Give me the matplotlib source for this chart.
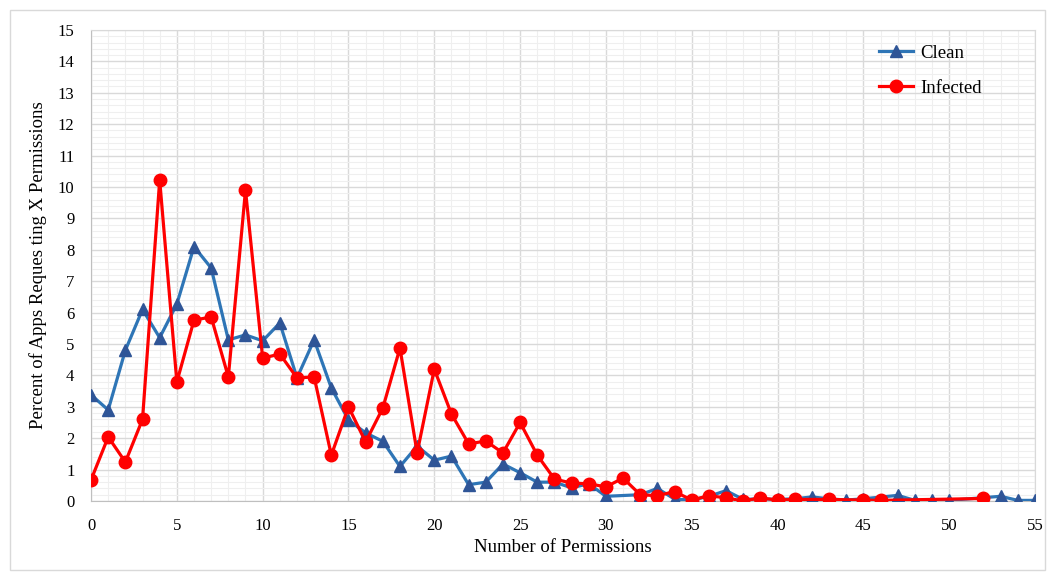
import matplotlib.pyplot as plt
from matplotlib.patches import Rectangle
from matplotlib.ticker import MultipleLocator

plt.rcParams['font.family'] = ['Liberation Serif', 'DejaVu Serif']

# permission counts and percentages for clean apps
clean_x = list(range(0, 31)) + [32, 33, 34, 35, 36, 37, 38, 39, 40, 41, 42, 43, 44, 45,
                                 47, 48, 49, 50, 53, 54, 55]
clean_y = [3.38, 2.9, 4.8, 6.1, 5.2, 6.27, 8.1, 7.42, 5.13, 5.29, 5.1, 5.67, 3.92, 5.13,
           3.6, 2.58, 2.17, 1.9, 1.1, 1.75, 1.3, 1.43, 0.52, 0.6, 1.18, 0.9, 0.6, 0.6,
           0.42, 0.55, 0.15,
           0.2, 0.4, 0.06, 0.03, 0.15, 0.33, 0.05, 0.07, 0.05, 0.07, 0.13, 0.07, 0.03, 0.07,
           0.18, 0.02, 0.02, 0.02, 0.15, 0.02, 0.02]

# permission counts and percentages for infected apps
infected_x = list(range(0, 42)) + [43, 45, 46, 52]
infected_y = [0.67, 2.04, 1.24, 2.6, 10.22, 3.79, 5.76, 5.86, 3.95, 9.9, 4.55, 4.68,
              3.92, 3.95, 1.46, 3.0, 1.88, 2.96, 4.87, 1.53, 4.2, 2.77, 1.82, 1.91,
              1.53, 2.5, 1.46, 0.7, 0.57, 0.55, 0.45, 0.73, 0.2, 0.17, 0.3, 0.03,
              0.17, 0.1, 0.0, 0.1, 0.03, 0.05,
              0.05, 0.03, 0.02, 0.08]

fig = plt.figure(figsize=(10.5, 5.76), dpi=100)
fig.patches.append(Rectangle((10 / 1050, 6 / 576), 1035 / 1050, 560 / 576,
                             transform=fig.transFigure, fill=False,
                             edgecolor='#d9d9d9', linewidth=1))
ax = fig.add_axes([0.0867, 0.1302, 0.899, 0.8178])

ax.plot(clean_x, clean_y, color='#2E75B6', linewidth=2.3, marker='^',
        markersize=8.5, markerfacecolor='#2F5597', markeredgecolor='#2F5597',
        label='Clean', zorder=3)
ax.plot(infected_x, infected_y, color='#FF0000', linewidth=2.3, marker='o',
        markersize=9, markerfacecolor='#FF0000', markeredgecolor='#FF0000',
        label='Infected', zorder=4)

ax.set_xlim(0, 55)
ax.set_ylim(0, 15)
ax.xaxis.set_major_locator(MultipleLocator(5))
ax.xaxis.set_minor_locator(MultipleLocator(1))
ax.yaxis.set_major_locator(MultipleLocator(1))
ax.yaxis.set_minor_locator(MultipleLocator(0.2))
ax.grid(which='major', color='#d9d9d9', linewidth=1)
ax.grid(which='minor', color='#efefef', linewidth=0.8)
ax.set_axisbelow(True)
ax.tick_params(which='both', length=0, labelsize=12, colors='black')
ax.tick_params(axis='x', pad=12)
ax.tick_params(axis='y', pad=12)
for s in ax.spines.values():
    s.set_color('#d9d9d9')
ax.spines['left'].set_color('#bfbfbf')
ax.spines['bottom'].set_color('#bfbfbf')

ax.set_xlabel('Number of Permissions', fontsize=13.5, labelpad=4)
ax.set_ylabel('Percent of Apps Reques ting X Permissions', fontsize=13.5, labelpad=8)

ax.legend(loc='upper right', frameon=False, fontsize=13.5, handlelength=1.8,
          handletextpad=0.4, labelspacing=0.95, bbox_to_anchor=(0.962, 1.005))

fig.savefig('out.png', dpi=100)
